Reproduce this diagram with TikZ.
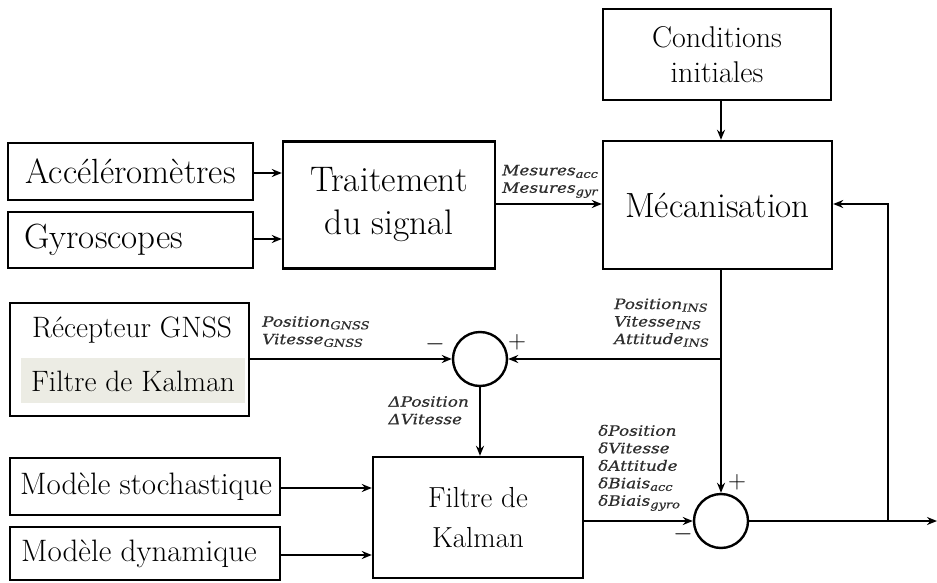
\documentclass[tikz,border=0pt]{standalone}
\usepackage{fontspec}
\usetikzlibrary{arrows.meta}
\newfontfamily\sigfont[FakeStretch=1.18,FakeBold=0.6]{DejaVu Serif}
\newcommand\lsub[1]{\raisebox{-2.6pt}{\fontsize{11}{11}\selectfont #1}}
\definecolor{sigtext}{HTML}{2E2E2E}
\definecolor{hlfill}{HTML}{ECECE4}
\begin{document}
\begin{tikzpicture}[x=1pt,y=-1pt,
  blk/.style={draw,line width=2.4pt,rectangle,inner sep=0pt,align=center,font=\fontsize{30}{35}\selectfont},
  sumnode/.style={draw,line width=2.4pt,circle,minimum size=54pt,inner sep=0pt},
  flow/.style={line width=2pt,-{Stealth[length=10pt,width=8pt]}},
  wire/.style={line width=2pt},
  sig/.style={inner sep=0pt,align=left,text=sigtext,font=\sigfont\itshape\fontsize{14.3}{17.5}\selectfont},
  sign/.style={inner sep=0pt,font=\fontsize{24}{24}\selectfont}]
\useasboundingbox (0,0) rectangle (937,583);

% blocks
\node[blk,minimum width=228pt,minimum height=91pt] (cond) at (717,54.5) {Conditions\\initiales};
\node[blk,minimum width=229pt,minimum height=128pt,font=\fontsize{35}{40}\selectfont] (mec) at (717.5,205) {M\'ecanisation};
\node[blk,minimum width=212pt,minimum height=127pt,font=\fontsize{35.5}{43}\selectfont] (trait) at (389,205) {Traitement\\du signal};
\node[blk,minimum width=245pt,minimum height=57pt,font=\fontsize{35}{38}\selectfont] (acc) at (130.5,171.5) {Acc\'el\'erom\`etres};
\node[blk,minimum width=245pt,minimum height=56pt] (gyro) at (130.5,240) {};
\node[inner sep=0pt,anchor=west,font=\fontsize{35}{38}\selectfont] (gyrot) at (24,240) {Gyroscopes};
\node[blk,minimum width=239pt,minimum height=113pt] (gnss) at (129.5,359.5) {};
\fill[hlfill] (21,358) rectangle (245,403);
\node[inner sep=0pt,font=\fontsize{29.5}{34}\selectfont] (gnsst) at (132,330) {R\'ecepteur GNSS};
\node[inner sep=0pt,font=\fontsize{29.5}{34}\selectfont] (gnssk) at (133,381) {Filtre de Kalman};
\node[blk,minimum width=210pt,minimum height=121pt,font=\fontsize{29}{40}\selectfont] (kal) at (478,517.5) {Filtre de\\Kalman};
\node[blk,minimum width=270pt,minimum height=57pt] (stoch) at (145,486.5) {};
\node[inner sep=0pt,anchor=west,font=\fontsize{31}{34}\selectfont] (stocht) at (20,486.5) {Mod\`ele stochastique};
\node[blk,minimum width=270pt,minimum height=53pt] (dyn) at (145,553.5) {};
\node[inner sep=0pt,anchor=west,font=\fontsize{31}{34}\selectfont] (dynt) at (21,553.5) {Mod\`ele dynamique};

% summing junctions
\node[sumnode] (s1) at (480,359) {};
\node[sumnode] (s2) at (721,521) {};

% helper points
\coordinate (tap) at (721,359);
\coordinate (split) at (888,521);
\coordinate (out) at (937,521);

% connectors
\draw[flow] (acc.east |- 0,173) -- (trait.west |- 0,173);
\draw[flow] (gyro.east |- 0,239) -- (trait.west |- 0,239);
\draw[flow] (trait.east |- 0,204) -- (mec.west |- 0,204);
\draw[flow] (cond.south -| s2) -- (mec.north -| s2);
\draw[flow] (gnss.east |- s1) -- (s1.west);
\draw[wire] (mec.south -| s2) -- (tap);
\draw[flow] (tap) -- (s1.east);
\draw[flow] (tap) -- (s2.north);
\draw[flow] (s1.south) -- (kal.north -| s1);
\draw[flow] (stoch.east |- 0,488) -- (kal.west |- 0,488);
\draw[flow] (dyn.east |- 0,555) -- (kal.west |- 0,555);
\draw[flow] (kal.east |- s2) -- (s2.west);
\draw[flow] (s2.east) -- (out);
\draw[flow] (split) -- (split |- 0,204) -- (mec.east |- 0,204);

% signal labels
\node[sig,anchor=south west] (lmes) at (502,198) {Mesures\lsub{acc}\\Mesures\lsub{gyr}};
\node[sig,anchor=north west] (lgnss) at (262,316) {Position\lsub{GNSS}\\Vitesse\lsub{GNSS}};
\node[sig,anchor=north east,align=left] (ldelta) at (469,396) {ΔPosition\\ΔVitesse};
\node[sig,anchor=south east,align=left] (lins) at (709,347) {Position\lsub{INS}\\Vitesse\lsub{INS}\\Attitude\lsub{INS}};
\node[sig,anchor=south west] (lerr) at (598,511) {δPosition\\δVitesse\\δAttitude\\δBiais\lsub{acc}\\δBiais\lsub{gyro}};

% signs
\node[sign] (m1) at (435,344) {$-$};
\node[sign] (p1) at (517,342) {$+$};
\node[sign] (p2) at (737,482) {$+$};
\node[sign] (m2) at (683,534) {$-$};
\end{tikzpicture}
\end{document}
